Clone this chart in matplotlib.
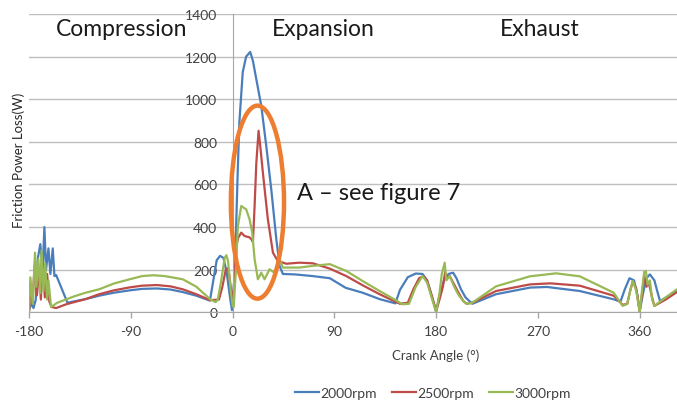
import matplotlib
matplotlib.use('Agg')
import matplotlib.pyplot as plt
from matplotlib.patches import Ellipse

plt.rcParams['font.family'] = ['Lato', 'DejaVu Sans']
plt.rcParams['axes.unicode_minus'] = False

# crank angle (deg) / friction power loss (W)
angle_2000 = [-180, -178, -176, -174, -172.3, -170, -167.9, -166.4, -164.9, -162.8, -161.1, -159, -157.5, -156,
              -146, -130, -118, -105, -91, -80, -67, -55, -44, -32, -20, -17, -14, -11, -8, -5, -2, -0.5,
              2, 4.5, 6, 9, 12, 15.6, 18, 21, 25.4, 29.8, 34.2, 38.7, 41.6, 44.5, 55, 71, 86, 100, 115, 130, 144,
              148, 155, 162, 168, 172, 177, 180, 183, 187, 191, 195, 198, 202, 206, 212, 233, 263, 278, 307,
              337, 343, 347, 351, 355, 358, 360, 363, 366, 369, 373, 376, 378, 385, 393]
loss_2000 = [10, 40, 20, 60, 250, 320, 200, 400, 200, 300, 180, 300, 170, 175,
             45, 62, 78, 92, 103, 110, 112, 107, 95, 78, 55, 150, 245, 265, 255, 180, 60, 10,
             186, 650, 890, 1127, 1200, 1222, 1180, 1094, 969, 781, 578, 343, 217, 180, 178, 170, 160, 115, 92, 62, 42,
             105, 165, 182, 180, 150, 61, 5, 80, 150, 180, 186, 160, 108, 70, 40, 85, 116, 119, 100,
             61, 50, 110, 160, 150, 80, 5, 90, 160, 178, 150, 90, 53, 75, 100]

angle_2500 = [-180, -178.5, -177, -175, -173, -171, -169.5, -168, -166, -164, -162, -160, -156,
              -147, -130, -118, -105, -91, -80, -67, -55, -44, -32, -20, -12, -9, -6, -4.5, -3, -1, 0.5,
              2, 3.2, 5, 7.7, 10.6, 15, 17, 18, 19.5, 21, 23, 24.5, 26.8, 31.2, 35.7, 40, 47.5, 59, 71, 86,
              100.6, 115, 130, 144, 148, 155, 160, 165, 168.5, 172, 176, 180, 183, 186, 188, 189, 192, 196,
              200, 204, 207, 212, 233, 263, 281, 307, 337, 345, 349, 352, 354, 357, 360, 362, 364, 366, 368,
              371, 373, 383, 393]
loss_2500 = [0, 120, 40, 220, 80, 200, 60, 230, 70, 180, 50, 25, 20,
             38, 62, 85, 103, 117, 125, 128, 122, 108, 85, 57, 60, 120, 200, 207, 180, 90, 50,
             200, 311, 350, 374, 358, 352, 340, 330, 500, 700, 852, 780, 656, 437, 280, 241, 228, 233, 230, 205,
             170, 127, 85, 50, 40, 45, 110, 160, 170, 150, 80, 5, 60, 120, 190, 155, 170, 130,
             90, 53, 40, 45, 100, 131, 136, 125, 78, 35, 40, 110, 147, 110, 5, 80, 170, 120, 140,
             70, 30, 60, 95]

angle_3000 = [-180, -178.8, -176.7, -174.7, -173.5, -171.7, -170, -168.9, -167.2, -165.7, -164, -162.8, -160.5,
              -155, -140, -130, -118, -105, -91, -80, -70, -60, -44, -32, -20, -15, -13, -10, -7, -5.5, -4, -2,
              0, 1, 3, 4.7, 7.7, 10, 12, 15, 17.4, 19.5, 22.4, 25.4, 28.3, 32.7, 37, 40, 41.6, 44.5, 59, 71, 86,
              100.6, 115, 130, 144, 150, 156, 162, 168, 172, 176, 180, 183, 185, 187.6, 189, 192, 196, 200,
              204, 207, 212, 233, 263, 286, 307, 337, 345, 349, 352, 354, 357, 360, 362, 364, 365.5, 367, 369,
              371, 373, 383, 393]
loss_3000 = [0, 164, 40, 280, 120, 250, 90, 290, 100, 230, 60, 150, 25,
             45, 75, 92, 108, 135, 155, 170, 174, 170, 155, 120, 62, 48, 60, 150, 255, 268, 240, 120,
             30, 25, 200, 405, 499, 490, 484, 437, 374, 249, 155, 186, 155, 202, 186, 230, 249, 210, 210, 218, 226,
             194, 147, 100, 58, 38, 40, 120, 170, 140, 70, 0, 90, 180, 233, 150, 170, 120, 80,
             53, 40, 45, 122, 169, 183, 169, 92, 30, 40, 110, 147, 100, 0, 100, 190, 194, 130, 150,
             60, 30, 70, 108]

series_names = ['2000rpm', '2500rpm', '3000rpm']
series_colors = ['#4A7EBB', '#BE4B48', '#98B954']
x_ticks = [-180, -90, 0, 90, 180, 270, 360]
y_ticks = [0, 200, 400, 600, 800, 1000, 1200, 1400]
phase_labels = ['Compression', 'Expansion', 'Exhaust']
phase_x = [-98, 80, 272]

fig = plt.figure(figsize=(6.77, 4.02), dpi=100)
ax = fig.add_axes([29 / 677, 0.2206, 1 - 29 / 677, 0.7421])

for ang, val, name, col in zip([angle_2000, angle_2500, angle_3000],
                               [loss_2000, loss_2500, loss_3000],
                               series_names, series_colors):
    ax.plot(ang, val, color=col, lw=1.6, label=name, solid_joinstyle='round')

ax.set_xlim(-180, 393)
ax.set_ylim(0, 1400)
ax.set_xticks(x_ticks)
ax.set_yticks(y_ticks)
ax.yaxis.grid(True, color='#BFBFBF', lw=1)
ax.set_axisbelow(True)
for s in ['top', 'right']:
    ax.spines[s].set_visible(False)
ax.spines['left'].set_position(('data', 0))
ax.spines['left'].set_color('#A6A6A6')
ax.spines['bottom'].set_color('#A6A6A6')
ax.tick_params(axis='y', length=0, pad=11, labelsize=10, labelcolor='#404040')
ax.tick_params(axis='x', length=4, width=1, color='#A6A6A6', pad=5, labelsize=10, labelcolor='#404040')

# highlight ring + note
ax.add_patch(Ellipse((22, 517), 47, 906, fill=False, ec='#ED7D31', lw=3.2, zorder=5))
ax.text(57, 564, 'A \u2013 see figure 7', fontsize=17, va='center', color='#1a1a1a')

for lab, xp in zip(phase_labels, phase_x):
    ax.text(xp, 1330, lab, fontsize=16.5, ha='center', va='center', color='#1a1a1a')

fig.text(0.028, 0.6, 'Friction Power Loss(W)', rotation=90, fontsize=9.5,
         ha='center', va='center', color='#262626')
fig.text(435.5 / 677, 1 - 356 / 402, 'Crank Angle (\u00b0)', fontsize=9.5,
         ha='center', va='center', color='#404040')

fig.legend(loc='center', bbox_to_anchor=(433 / 677, 1 - 394 / 402), ncol=3, frameon=False,
           fontsize=10, handlelength=1.7, handletextpad=0.1, columnspacing=1.1, labelcolor='#404040')

plt.savefig('out.png', dpi=100)
